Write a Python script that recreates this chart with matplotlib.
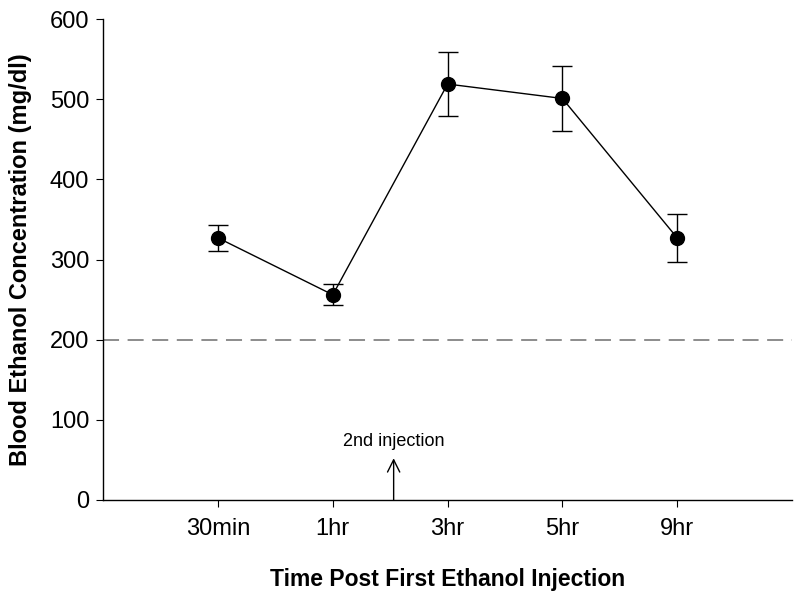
import matplotlib
matplotlib.use('Agg')
import matplotlib.pyplot as plt
import numpy as np

plt.rcParams['font.family'] = ['Liberation Sans', 'DejaVu Sans']

# datos
labels = ['30min', '1hr', '3hr', '5hr', '9hr']
bec = [327, 256, 519, 501, 327]
sem = [16, 13, 40, 40, 30]
threshold = 200
injection_pos = 2.53

fig = plt.figure(figsize=(8, 5.98), dpi=100)
ax = fig.add_axes([0.129, 0.164, 0.861, 0.804])

x = np.arange(1, len(labels) + 1)

ax.axhline(threshold, color='#6e6e6e', linestyle=(0, (10.5, 5.6)), linewidth=1.1, zorder=1)

ax.errorbar(x, bec, yerr=sem, fmt='o-', color='black', markersize=10,
            linewidth=1.0, elinewidth=1.0, capsize=7, capthick=1.0, zorder=3)

ax.annotate('', xy=(injection_pos, 52), xytext=(injection_pos, 0),
            arrowprops=dict(arrowstyle='->', color='black', lw=1.0,
                            mutation_scale=22, shrinkA=0, shrinkB=0))
ax.text(injection_pos, 62, '2nd injection', ha='center', va='bottom', fontsize=13)

ax.set_xlim(0, 6)
ax.set_ylim(0, 600)
ax.set_xticks(x)
ax.set_xticklabels(labels, fontsize=17)
ax.set_yticks(np.arange(0, 601, 100))
ax.tick_params(axis='y', labelsize=17, direction='out', length=5, pad=5)
ax.tick_params(axis='x', direction='out', length=5, pad=8)

for side in ['top', 'right']:
    ax.spines[side].set_visible(False)
for side in ['left', 'bottom']:
    ax.spines[side].set_linewidth(1.0)

ax.set_xlabel('Time Post First Ethanol Injection', fontsize=16.5, fontweight='bold', labelpad=20)
ax.set_ylabel('Blood Ethanol Concentration (mg/dl)', fontsize=17, fontweight='bold', labelpad=13)

plt.savefig('out.png', dpi=100)
